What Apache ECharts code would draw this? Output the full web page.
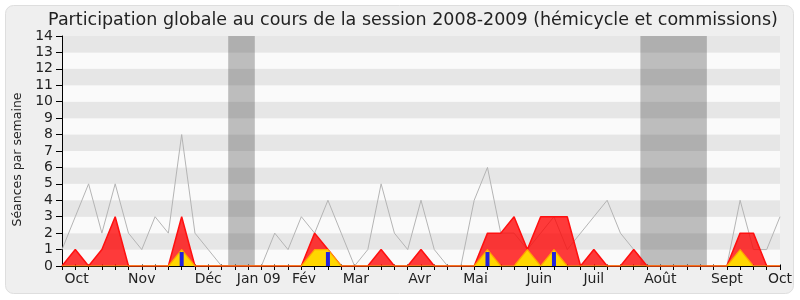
<!DOCTYPE html>
<html>
<head>
<meta charset="utf-8">
<script src="https://cdn.jsdelivr.net/npm/echarts@6/dist/echarts.min.js"></script>
<style>html,body{margin:0;padding:0;background:#fff}#c{width:800px;height:300px}</style>
</head>
<body>
<div id="c"></div>
<script>
// Week index 0..54 (session 2008-2009)
var totalSeances = [1,3,5,2,5,2,1,3,2,8,2,1,0,0,0,0,2,1,3,2,4,2,0,1,5,2,1,4,1,0,0,4,6,2,2,1,2,3,1,2,3,4,2,1,0,0,0,0,0,0,0,4,1,1,3];
var presence     = [0,1,0,1,3,0,0,0,0,3,0,0,0,0,0,0,0,0,0,2,1,0,0,0,1,0,0,1,0,0,0,0,2,2,3,1,3,3,3,0,1,0,0,1,0,0,0,0,0,0,0,2,2,0,0];
var presenceHemi = [0,0,0,0,0,0,0,0,0,1,0,0,0,0,0,0,0,0,0,1,1,0,0,0,0,0,0,0,0,0,0,0,1,0,0,1,0,1,0,0,0,0,0,0,0,0,0,0,0,0,0,1,0,0,0];
var interventions= [0,0,0,0,0,0,0,0,0,0.85,0,0,0,0,0,0,0,0,0,0,0.85,0,0,0,0,0,0,0,0,0,0,0,0.85,0,0,0,0,0.85,0,0,0,0,0,0,0,0,0,0,0,0,0,0,0,0,0];
var monthLabels    = ['Oct','Nov','Déc','Jan 09','Fév','Mar','Avr','Mai','Juin','Juil','Août','Sept','Oct'];
var monthPositions = [1.1,6,11,14.8,18.2,22.1,26.9,31.1,35.9,40,45,50,54];
var vacations = [[12.5,14.5],[43.5,48.5]];
var yTitle = 'Séances par semaine';

function pairs(arr){ return arr.map(function(v,i){ return [i,v]; }); }

var chart = echarts.init(document.getElementById('c'), null, {renderer:'canvas'});
var font = 'DejaVu Sans';
chart.setOption({
  backgroundColor:'#ffffff',
  animation:false,
  graphic:[{
    type:'rect', z:-100, silent:true,
    shape:{x:5.5,y:5.5,width:788,height:288,r:8},
    style:{fill:'#efefef',stroke:'#dedede',lineWidth:1}
  },{
    type:'text', silent:true, x:18, y:159.5, rotation:Math.PI/2,
    style:{text:yTitle, font:'12.5px "DejaVu Sans"', fill:'#222', align:'center', verticalAlign:'middle'}
  }],
  title:{
    text:'Participation globale au cours de la session 2008-2009 (hémicycle et commissions)',
    left:408, top:6, textAlign:'center',
    textStyle:{fontFamily:font,fontSize:17.5,fontWeight:'normal',color:'#222'}
  },
  grid:{left:62,right:20,top:36,bottom:34,containLabel:false,outerBoundsMode:'none'},
  xAxis:[{
    type:'value', min:0, max:54, interval:1,
    axisLine:{show:true,onZero:false,lineStyle:{color:'#000',width:1}},
    axisTick:{show:true,length:4,lineStyle:{color:'#000'}},
    splitLine:{show:false},
    axisLabel:{
      customValues:monthPositions,
      margin:6,
      fontFamily:font,fontSize:14,color:'#222',
      formatter:function(v){
        var best=-1,bd=1e9;
        for(var k=0;k<monthPositions.length;k++){var d=Math.abs(monthPositions[k]-v); if(d<bd){bd=d;best=k;}}
        return bd<0.3?monthLabels[best]:'';
      }
    }
  },{
    type:'value', min:0, max:54, interval:1, position:'top',
    axisLine:{show:false},
    axisTick:{show:true,length:1.5,lineStyle:{color:'#000'}},
    axisLabel:{show:false},
    splitLine:{show:false}
  }],
  yAxis:{
    type:'value', min:0, max:14, interval:1,
    axisLine:{show:true,lineStyle:{color:'#000'}},
    axisTick:{show:true,length:6,lineStyle:{color:'#000'}},
    axisLabel:{fontFamily:font,fontSize:14,color:'#222',margin:9},
    splitLine:{show:false},
    splitArea:{show:true,areaStyle:{color:['#fafafa','#e6e6e6']}}
  },
  series:[{
    type:'line', name:'bands', data:[], z:1, silent:true,
    markArea:{silent:true,itemStyle:{color:'rgba(50,50,50,0.3)'},
      data:vacations.map(function(b){return [{xAxis:b[0]},{xAxis:b[1]}];})}
  },{
    type:'line', name:'total', data:pairs(totalSeances), z:3, symbol:'none',
    lineStyle:{color:'#b4b4b4',width:1}
  },{
    type:'line', name:'presence', data:pairs(presence), z:4, symbol:'none',
    lineStyle:{color:'#ff1010',width:1.5},
    areaStyle:{color:'#ff0000',opacity:0.77}
  },{
    type:'line', name:'hemicycle', data:pairs(presenceHemi), z:5, symbol:'none',
    lineStyle:{color:'#ffa500',width:1.2},
    areaStyle:{color:'#ffd700',opacity:1}
  },{
    type:'bar', name:'interventions', data:pairs(interventions), z:6, barWidth:4,
    itemStyle:{color:'#2222dd'}
  }]
});
</script>
</body>
</html>
